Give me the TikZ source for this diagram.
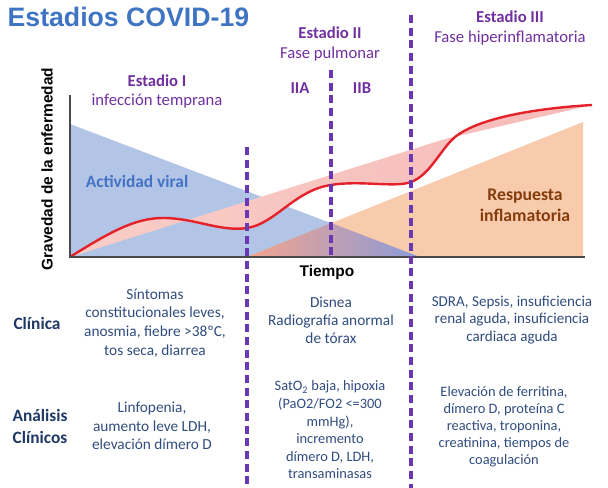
\documentclass[tikz,border=0pt]{standalone}
\usepackage{fontspec}
\setmainfont{Carlito}
\newfontfamily\arialfont{Liberation Sans}
\usepackage{tikz}
\usetikzlibrary{positioning}
\definecolor{stagepurple}{HTML}{7030A0}
\definecolor{dashpurple}{HTML}{6A38B2}
\definecolor{titleblue}{HTML}{3F74C2}
\definecolor{viralblue}{HTML}{B2C5E6}
\definecolor{viraltext}{HTML}{4472C4}
\definecolor{inflorange}{HTML}{F8CBAD}
\definecolor{inflbrown}{HTML}{843C0C}
\definecolor{curvered}{HTML}{E5222A}
\definecolor{bandlight}{HTML}{F9CDC8}
\definecolor{banddark}{HTML}{EE8C8A}
\definecolor{bandpale}{HTML}{F6BBB8}
\definecolor{mixorange}{HTML}{F2A48E}
\definecolor{mixpurple}{HTML}{8A9BD8}
\definecolor{cellnavy}{HTML}{304C7E}
\definecolor{labnavy}{HTML}{1F3864}
\definecolor{axisgray}{HTML}{4A4A4A}

\begin{document}
\begin{tikzpicture}[x=0.75pt, y=-0.75pt, line width=1pt, >=latex,
    stage/.style={text=stagepurple, inner sep=0pt, anchor=base, font=\fontsize{12.5}{15}\selectfont\bfseries},
    phase/.style={text=stagepurple, inner sep=0pt, anchor=base, font=\fontsize{12.5}{15}\selectfont},
    cell/.style={text=cellnavy, inner sep=0pt, align=center, font=\fontsize{11.5}{14}\selectfont},
    rowlab/.style={text=labnavy, inner sep=0pt, align=center, font=\fontsize{13}{16.5}\selectfont\bfseries},
    axislab/.style={inner sep=0pt, font=\arialfont\fontsize{11.6}{13}\selectfont\bfseries},
    divider/.style={dashpurple, line width=2.6pt, dash pattern=on 6pt off 3.5pt}]
    \useasboundingbox (0,0) rectangle (608,488);

    % areas
    \fill[viralblue] (70,124) -- (420,257) -- (70,257) -- cycle;
    \fill[inflorange] (247,257) -- (583,122) -- (583,257) -- cycle;
    \shade[left color=mixorange, right color=mixpurple] (247,257) -- (331,223) -- (420,257) -- cycle;

    % severity band and curve
    \shade[left color=bandlight, middle color=banddark, right color=bandpale]
        (70,257) .. controls (110,232) and (135,218) .. (163,218)
        .. controls (195,218) and (220,232) .. (247,228)
        .. controls (275,224) and (295,190) .. (331,185)
        .. controls (360,180) and (395,188) .. (411,182)
        .. controls (430,175) and (440,150) .. (455,137)
        .. controls (480,117) and (540,108) .. (592,105)
        -- (445,139) -- cycle;
    \draw[curvered, line width=1.8pt]
        (70,257) .. controls (110,232) and (135,218) .. (163,218)
        .. controls (195,218) and (220,232) .. (247,228)
        .. controls (275,224) and (295,190) .. (331,185)
        .. controls (360,180) and (395,188) .. (411,182)
        .. controls (430,175) and (440,150) .. (455,137)
        .. controls (480,117) and (540,108) .. (592,105);

    % axes
    \coordinate (yTop) at (70,95);
    \coordinate (orig) at (70,257);
    \coordinate (xEnd) at (585,257);
    \draw[axisgray, line width=1.6pt] (yTop) -- (orig) -- (xEnd);

    % stage dividers
    \coordinate (d1Top) at (247,147);
    \coordinate (d1Bot) at (247,488);
    \coordinate (d2Top) at (331,70);
    \coordinate (d2Bot) at (331,260);
    \coordinate (d3Top) at (411,15);
    \coordinate (d3Bot) at (411,488);
    \draw[divider] (d1Top) -- (d1Bot);
    \draw[divider] (d2Top) -- (d2Bot);
    \draw[divider] (d3Top) -- (d3Bot);

    % title and headers
    \node[text=titleblue, inner sep=0pt, anchor=base west, font=\arialfont\fontsize{20}{24}\selectfont\bfseries] (title) at (7,27) {Estadios COVID-19};
    \node[stage] (s1) at (157,87) {Estadio I};
    \node[phase] (s1Sub) at ([yshift=-14.25pt]s1.base) {infección temprana};
    \node[stage] (s2) at (330,39) {Estadio II};
    \node[phase] (s2Sub) at ([yshift=-15pt]s2.base) {Fase pulmonar};
    \node[stage] (s3) at (510,23) {Estadio III};
    \node[phase] (s3Sub) at ([yshift=-15pt]s3.base) {Fase hiperinflamatoria};
    \node[stage] (s2a) at (300,94) {IIA};
    \node[stage] (s2b) at (362,94) {IIB};

    % axis and area labels
    \node[axislab, rotate=90] (yLabel) at (47,169) {Gravedad de la enfermedad};
    \node[axislab, anchor=base] (xLabel) at (327,277) {Tiempo};
    \node[text=viraltext, inner sep=0pt, anchor=base, font=\fontsize{13}{16}\selectfont\bfseries] (viral) at (137,188) {Actividad viral};
    \node[text=inflbrown, inner sep=0pt, align=center, font=\fontsize{13.3}{15.5}\selectfont\bfseries] (infl) at (525,205) {Respuesta\\inflamatoria};

    % table rows
    \node[rowlab, anchor=base] (clin) at (37,330) {Clínica};
    \node[rowlab] (anal) at (40,426) {Análisis\\Clínicos};

    \node[cell] (clin1) at (155,323) {Síntomas\\constitucionales leves,\\anosmia, fiebre >38ºC,\\tos seca, diarrea};
    \node[cell, font=\fontsize{11.5}{13.5}\selectfont] (clin2) at (331,320) {Disnea\\Radiografía anormal\\de tórax};
    \node[cell, font=\fontsize{11.3}{13.3}\selectfont] (clin3) at (512,320) {SDRA, Sepsis, insuficiencia\\renal aguda, insuficiencia\\cardiaca aguda};

    \node[cell] (anal1) at (152,426) {Linfopenia,\\aumento leve LDH,\\elevación dímero D};
    \node[cell, font=\fontsize{10.8}{13.2}\selectfont] (anal2) at (330,430) {SatO\textsubscript{2} baja, hipoxia\\(PaO2/FO2 <=300\\mmHg),\\incremento\\dímero D, LDH,\\transaminasas};
    \node[cell, font=\fontsize{10.8}{12.8}\selectfont] (anal3) at (504,427) {Elevación de ferritina,\\dímero D, proteína C\\reactiva, troponina,\\creatinina, tiempos de\\coagulación};
\end{tikzpicture}
\end{document}
